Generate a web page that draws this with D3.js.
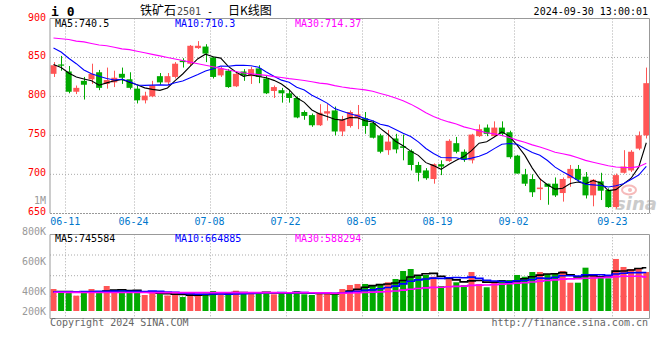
<!DOCTYPE html>
<html><head><meta charset="utf-8">
<script src="https://cdn.jsdelivr.net/npm/d3@7/dist/d3.min.js"></script>
<style>
body{margin:0;background:#fff}
svg{display:block}
text{font-family:"DejaVu Sans Mono",monospace;font-size:10px}
</style>
</head><body><svg id="c" width="660" height="360"></svg>
<script>
const dates = ["06-07","06-11","06-12","06-13","06-14","06-17","06-18","06-19","06-20","06-21",
"06-24","06-25","06-26","06-27","06-28","07-01","07-02","07-03","07-04","07-05",
"07-08","07-09","07-10","07-11","07-12","07-15","07-16","07-17","07-18","07-19",
"07-22","07-23","07-24","07-25","07-26","07-29","07-30","07-31","08-01","08-02",
"08-05","08-06","08-07","08-08","08-09","08-12","08-13","08-14","08-15","08-16",
"08-19","08-20","08-21","08-22","08-23","08-26","08-27","08-28","08-29","08-30",
"09-02","09-03","09-04","09-05","09-06","09-09","09-10","09-11","09-12","09-13",
"09-18","09-19","09-20","09-23","09-24","09-25","09-26","09-27","09-30"];

const open = [829,841,832,806,820,822,831,816,818,829,
822,810,795,800,826,818,825,846,842,862,
864,850,827,833,813,832,826,836,823,807,
808,804,798,780,776,763,778,782,755,762,
772,772,766,750,731,746,736,730,712,705,
694,713,717,740,729,718,749,760,749,760,
754,724,700,694,681,688,688,676,695,707,
697,673,691,680,658,702,705,733,750];
const close = [840,840,806,811,815,829,811,821,824,824,
811,795,801,814,818,826,842,844,865,865,
855,825,836,812,829,827,835,825,804,812,
804,798,773,775,763,779,781,755,770,780,
777,762,747,729,742,732,734,712,702,695,
713,710,743,729,719,751,758,752,760,752,
722,701,688,677,683,684,673,694,707,693,
673,693,679,658,699,710,729,750,817];
const high = [844,852,839,814,825,842,834,837,833,837,
831,814,806,820,830,830,844,849,866,871,
867,851,838,835,831,835,838,840,827,814,
811,808,800,782,778,790,790,787,775,782,
789,780,769,752,757,752,751,732,716,708,
714,718,745,748,732,752,764,764,768,768,
756,725,707,700,695,688,696,696,712,712,
703,694,702,682,701,731,731,755,837];
const low = [825,833,804,803,796,816,808,810,812,816,
809,791,791,799,815,814,823,837,839,861,
844,823,825,811,812,820,816,817,803,798,
792,792,772,770,761,762,769,750,749,760,
758,752,746,727,725,727,718,705,691,693,
688,699,716,727,716,714,748,749,748,749,
720,701,685,671,667,661,671,665,684,690,
669,659,667,657,656,701,703,731,746];

const ma5 = [841,837,830,825,822.4,820.2,814.4,817.4,820,821.8,
818.2,815,811,809,807.8,810.8,820.2,828.8,839,848.4,
854.2,850.8,849.2,838.6,831.4,825.8,827.8,825.6,824,820.6,
816,808.6,798.2,792.4,782.6,777.6,774.2,770.6,769.6,773,
772.6,768.8,767.2,759,751.4,742.4,736.8,729.8,724.4,715,
711.2,706.4,712.6,718,722.8,730.4,740,741.8,748,754.6,
748.8,737.4,724.6,708,694.2,686.6,681,682.2,688.2,690.2,
688,692,689,679.2,680.4,687.8,695,709.2,740.5];
const ma10 = [862,857,849,842,834,829,826,823,821,822.1,
819.2,814.7,814.2,814.5,814.8,814.5,817.6,819.9,824,828.1,
832.5,835.5,839,838.8,839.9,840,839.3,837.4,831.3,826,
820.9,818.2,811.9,808.2,801.6,796.8,791.4,784.4,781,777.8,
775.1,771.5,768.9,764.3,762.2,757.5,752.8,748.5,741.7,733.2,
726.8,721.6,721.2,721.2,718.9,720.8,723.2,727.2,733,738.7,
739.6,738.7,733.2,728,724.4,717.7,709.2,703.4,698.1,692.2,
687.3,686.5,685.6,683.7,685.3,687.9,693.5,699.1,710.3];
const ma30 = [875,874,873,871,870,868,866,865,863,861,
860,858,856,854,852,850,848,846,844,842,
840,838,836,834,832,830,829,828,827,825.4,
824.2,822.8,821.7,820.5,818.8,817.1,816.1,813.9,812.1,810.6,
809.5,808.4,806.6,803.8,801.2,798.1,794.5,790.1,784.7,779,
774.3,770.4,767.3,764.6,760.9,758.4,755.8,753.4,751.9,749.9,
747.2,743.9,741.1,737.8,735.2,732,728.4,726.4,724.3,721.4,
717.9,715.6,713.3,711,709.5,708.8,708.6,709.9,714.37];

const volume = [379000,319000,319000,264000,345000,379000,310000,431000,336000,379000,
316000,316000,276000,345000,293000,267000,276000,241000,288000,288000,
305000,345000,305000,288000,350000,305000,328000,305000,328000,288000,
328000,305000,345000,288000,276000,305000,305000,284000,379000,448000,
466000,466000,431000,466000,495000,552000,690000,724000,621000,621000,
591000,431000,547000,495000,448000,672000,466000,409000,495000,534000,
534000,621000,591000,672000,672000,638000,638000,690000,488000,488000,
747000,638000,591000,564000,897000,759000,724000,724000,672000];
const volMa5 = [330,335,335,330,325,325,323,346,360,367,
354,356,325,326,309,299,291,284,273,272,
280,293,306,306,319,319,315,315,323,311,
315,311,319,311,308,304,304,292,310,344,
376,409,438,455,465,482,527,585,616,642,
649,598,562,537,502,519,526,498,498,515,
488,519,555,590,618,639,642,662,625,588,
610,610,590,606,687,690,707,734,745.584];
const volMa10 = [330,331,332,333,334,336,338,340,343,346,
340,340,335,343,338,327,324,305,300,291,
290,292,295,290,295,299,304,311,315,315,
317,313,317,317,310,310,307,305,310,326,
340,356,365,383,405,429,468,512,536,553,
566,562,574,577,572,584,562,530,518,509,
503,522,527,544,567,563,580,609,608,603,
625,626,626,615,638,650,659,662,664.885];
const volMa30 = [322,322,321,321,320,320,320,319,319,319,
318,318,318,317,317,317,316,316,316,316,
316,316,316,316,317,317,317,317,317,317,
315,315,316,317,314,312,312,307,308,311,
316,321,326,330,336,346,360,376,387,398,
408,410,419,425,429,441,446,449,455,463,
470,480,488,501,514,525,537,550,554,555,
564,570,576,579,592,599,600,600,588.294];

const priceTicks = [900,850,800,750,700,650];
const gridDates = ["06-11","06-24","07-08","07-22","08-05","08-19","09-02","09-23"];
const volTickValues = [800000,600000,400000,200000];
const volTickLabels = ["800K","600K","400K","200K"];
const maLabels = ["MA5:740.5","MA10:710.3","MA30:714.37"];
const volMaLabels = ["MA5:745584","MA10:664885","MA30:588294"];

const svg = d3.select("#c");
const L = 50, R = 650.4, PR = 649.5;
const UP = "#ff5555", DOWN = "#00aa00", GRID = "#aaaaaa", BORDER = "#999999";
const maColors = ["#000000","#0000ff","#ff00ff"];

const x = d3.scaleBand().domain(dates).range([L, R]).padding(0);
const step = x.step();
const cx = d => x(d) + 3.5;
const y = d3.scaleLinear().domain([650, 900]).range([213.3, 18.5]);
const yv = d3.scaleLinear().domain([0, 1000000]).range([311, 253]);
const yvLabel = d3.scaleLinear().domain([200000, 400000, 600000, 800000]).range([311, 291, 261, 231]);

const candles = dates.map((d, i) => ({d, o: open[i], c: close[i], h: high[i], l: low[i], v: volume[i]}));

const defs = svg.append("defs");
defs.append("clipPath").attr("id","cp").append("rect").attr("x",L).attr("y",18.5).attr("width",PR-L).attr("height",195);
defs.append("clipPath").attr("id","cv").append("rect").attr("x",L).attr("y",234.3).attr("width",PR-L).attr("height",84);

const g = svg.append("g");
priceTicks.filter(t => t < 900 && t > 650).forEach(t => {
  g.append("line").attr("x1",L).attr("x2",PR).attr("y1",y(t)).attr("y2",y(t))
   .attr("stroke",GRID).attr("stroke-dasharray","1,2");
});
gridDates.forEach(d => {
  const gx = Math.round(x(d) + step) + 0.5;
  g.append("line").attr("x1",gx).attr("x2",gx).attr("y1",18.5).attr("y2",213.3)
   .attr("stroke",GRID).attr("stroke-dasharray","1,2");
  g.append("line").attr("x1",gx).attr("x2",gx).attr("y1",234.3).attr("y2",318.3)
   .attr("stroke",GRID).attr("stroke-dasharray","1,2");
});
[255, 275.7, 296.3].forEach(yy => {
  g.append("line").attr("x1",L).attr("x2",PR).attr("y1",yy).attr("y2",yy)
   .attr("stroke",GRID).attr("stroke-dasharray","1,2");
});

const wm = svg.append("g").attr("opacity",0.5);
wm.append("ellipse").attr("cx",629).attr("cy",190).attr("rx",7).attr("ry",4.5)
  .attr("fill","none").attr("stroke","#e77").attr("stroke-width",2);
wm.append("circle").attr("cx",630).attr("cy",190).attr("r",2).attr("fill","#e77");
wm.append("text").attr("x",615).attr("y",210).text("sina")
  .style("font-family","DejaVu Sans").style("font-style","italic").style("font-weight","bold")
  .style("font-size","18px").attr("fill","#999");

const cg = svg.append("g").attr("clip-path","url(#cp)");
cg.selectAll("line.w").data(candles).join("line")
  .attr("x1", d => Math.round(cx(d.d)) + 0.5).attr("x2", d => Math.round(cx(d.d)) + 0.5)
  .attr("y1", d => y(d.h)).attr("y2", d => y(d.l))
  .attr("stroke", d => d.c >= d.o ? UP : DOWN).attr("stroke-width",1);
cg.selectAll("rect.b").data(candles).join("rect")
  .attr("x", d => x(d.d) + 0.5).attr("width", 6)
  .attr("y", d => y(Math.max(d.o, d.c)))
  .attr("height", d => Math.max(1.2, Math.abs(y(d.o) - y(d.c))))
  .attr("fill", d => d.c >= d.o ? UP : DOWN);

[ma5, ma10, ma30].forEach((arr, k) => {
  const line = d3.line().x((v,i) => cx(dates[i])).y(v => y(v));
  cg.append("path").attr("d", line(arr)).attr("fill","none")
    .attr("stroke", maColors[k]).attr("stroke-width",1.1);
});

const vg = svg.append("g").attr("clip-path","url(#cv)");
vg.selectAll("rect").data(candles).join("rect")
  .attr("x", d => x(d.d) + 0.5).attr("width", 6)
  .attr("y", d => yv(d.v)).attr("height", d => yv(0) - yv(d.v))
  .attr("fill", d => d.c >= d.o ? UP : DOWN);
[volMa5, volMa10, volMa30].forEach((arr, k) => {
  const line = d3.line().curve(d3.curveStep).x((v,i) => cx(dates[i])).y(v => yv(v * 1000));
  vg.append("path").attr("d", line(arr)).attr("fill","none")
    .attr("stroke", maColors[k]).attr("stroke-width",1.6);
});

const bd = svg.append("g").attr("stroke",BORDER).attr("fill","none");
bd.append("line").attr("x1",L).attr("x2",PR).attr("y1",18.5).attr("y2",18.5);
bd.append("line").attr("x1",L).attr("x2",L).attr("y1",18.5).attr("y2",213.3);
bd.append("line").attr("x1",PR).attr("x2",PR).attr("y1",18.5).attr("y2",213.3);
bd.append("line").attr("x1",L).attr("x2",PR+1).attr("y1",213.5).attr("y2",213.5).attr("stroke-dasharray","2,1");
bd.append("line").attr("x1",L).attr("x2",PR).attr("y1",234.5).attr("y2",234.5);
bd.append("line").attr("x1",L).attr("x2",PR).attr("y1",318.5).attr("y2",318.5);
bd.append("line").attr("x1",L).attr("x2",L).attr("y1",234.5).attr("y2",318.5);
bd.append("line").attr("x1",PR).attr("x2",PR).attr("y1",234.5).attr("y2",318.5);

const t = svg.append("g");
t.append("text").attr("x",51).attr("y",15.5).text("i 0")
  .style("font-weight","bold").style("font-size","13px");
t.append("text").attr("x",140).attr("y",15).text("铁矿石")
  .style("font-family","'Noto Sans CJK SC'").style("font-size","12px");
t.append("text").attr("x",177).attr("y",15).text("2501").attr("fill","#444")
  .style("font-size","10px");
t.append("text").attr("x",207).attr("y",15).text("-");
t.append("text").attr("x",228).attr("y",15).text("日K线图")
  .style("font-family","'Noto Sans CJK SC'").style("font-size","12px");
t.append("text").attr("x",648).attr("y",15).attr("text-anchor","end").text("2024-09-30 13:00:01");

maLabels.forEach((s,k) => t.append("text").attr("x",55 + 120*k).attr("y",27).attr("fill",maColors[k]).text(s));
volMaLabels.forEach((s,k) => t.append("text").attr("x",55 + 120*k).attr("y",242).attr("fill",maColors[k]).text(s));

priceTicks.forEach(p => t.append("text").attr("x",46).attr("y",y(p) - 1.5).attr("dy","0.35em")
  .attr("text-anchor","end").attr("fill","#ff0000").text(p));
t.append("text").attr("x",46).attr("y",200).attr("dy","0.35em").attr("text-anchor","end")
  .attr("fill","#999").text("1M");
volTickValues.forEach((v,k) => t.append("text").attr("x",46).attr("y",yvLabel(v)).attr("dy","0.35em")
  .attr("text-anchor","end").attr("fill","#999").text(volTickLabels[k]));
gridDates.forEach(d => t.append("text").attr("x", x(d) + step).attr("y",221.5).attr("dy","0.35em")
  .attr("text-anchor","middle").attr("fill","#0077cc").text(d));

t.append("text").attr("x",50).attr("y",326).attr("fill","#666").text("Copyright 2024 SINA.COM");
t.append("text").attr("x",648).attr("y",326).attr("text-anchor","end").attr("fill","#666").text("http://finance.sina.com.cn");
</script></body></html>
